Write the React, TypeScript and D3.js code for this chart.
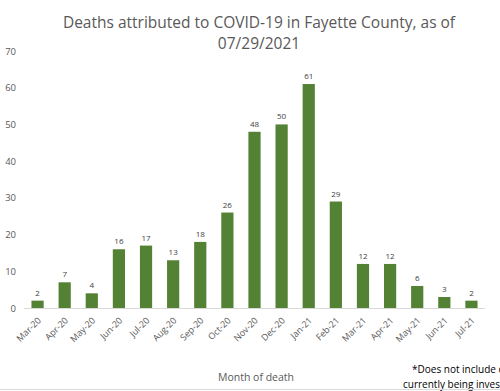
import React from "react";
import * as d3 from "d3";

const months = ["Mar-20","Apr-20","May-20","Jun-20","Jul-20","Aug-20","Sep-20","Oct-20","Nov-20","Dec-20","Jan-21","Feb-21","Mar-21","Apr-21","May-21","Jun-21","Jul-21"];
const deaths = [2,7,4,16,17,13,18,26,48,50,61,29,12,12,6,3,2];
const yTicks = [0,10,20,30,40,50,60,70];
const titleLines = ["Deaths attributed to COVID-19 in Fayette County, as of", "07/29/2021"];
const footnoteLines = ["*Does not include deaths", "currently being investigated"];

const W = 500, H = 391;
const FONT = "'Open Sans', 'Noto Sans', sans-serif";

export default function App() {
  const x = d3.scaleBand<string>().domain(months).range([24, 485]).paddingInner(0.55).paddingOuter(0.275);
  const y = d3.scaleLinear().domain([0, 70]).range([308, 51]);
  return (
    <svg width={W} height={H} style={{ position: "absolute", left: 0, top: 0, background: "#fff" }} fontFamily={FONT}>
      <rect x={0} y={0} width={W} height={H} fill="#fff" />
      {titleLines.map((t, i) => (
        <text key={i} x={259} y={28 + i * 21} textAnchor="middle" fontSize={15.5} fill="#595959">{t}</text>
      ))}
      {yTicks.map(t => (
        <text key={t} x={16} y={y(t) + 3.5} textAnchor="end" fontSize={9.5} fill="#595959">{t}</text>
      ))}
      <line x1={24} x2={485} y1={308.5} y2={308.5} stroke="#d9d9d9" strokeWidth={1} />
      {months.map((m, i) => (
        <g key={m}>
          <rect x={x(m)} y={y(deaths[i])} width={x.bandwidth()} height={y(0) - y(deaths[i])} fill="#548235" />
          <text x={x(m)! + x.bandwidth() / 2} y={y(deaths[i]) - 5} textAnchor="middle" fontSize={8} fill="#404040">{deaths[i]}</text>
          <text transform={`translate(${x(m)! + x.bandwidth() / 2 + 4},${321}) rotate(-45)`} textAnchor="end" fontSize={9} fill="#595959">{m}</text>
        </g>
      ))}
      <text x={256} y={381} textAnchor="middle" fontSize={10.5} fill="#595959">Month of death</text>
      {footnoteLines.map((t, i) => (
        <text key={i} x={i === 0 ? 412 : 403} y={373 + i * 15} fontSize={10} fill="#000">{t}</text>
      ))}
      <line x1={0} x2={W} y1={389.5} y2={389.5} stroke="#d9d9d9" strokeWidth={1} />
    </svg>
  );
}
